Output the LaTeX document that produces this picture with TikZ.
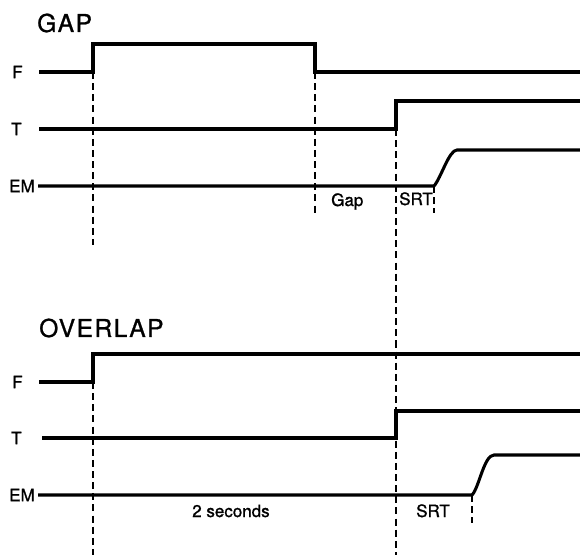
\documentclass[tikz,border=0pt]{standalone}
\usepackage{fontspec}
\setmainfont{TeX Gyre Heros}
\newfontfamily\lblfont[FakeBold=1.2]{TeX Gyre Heros}
\newfontfamily\ttlfont[LetterSpace=6, FakeBold=1.0]{TeX Gyre Heros}
\usepackage{tikz}
\usetikzlibrary{positioning}

\begin{document}
\begin{tikzpicture}[x=0.03cm, y=-0.03cm,
		sig/.style={line width=2.6pt, line join=miter},
		evline/.style={line width=1.2pt, dash pattern=on 6pt off 3.5pt},
		lbl/.style={font=\lblfont\fontsize{14.5}{16}\selectfont, inner sep=0pt},
		ttl/.style={font=\ttlfont\fontsize{21}{24}\selectfont, inner sep=0pt, anchor=west}
	]
	\useasboundingbox (0,0) rectangle (580,558);

	% GAP
	\node[ttl] (gTitle) at (37,23) {GAP};
	\node[lbl, anchor=west] (gF) at (12,72) {F};
	\node[lbl, anchor=west] (gT) at (11,129) {T};
	\node[lbl, anchor=east] (gEM) at (35,186) {EM};

	\coordinate (gFon) at (93,72);
	\coordinate (gFoff) at (315,72);
	\coordinate (gTon) at (396,129);
	\coordinate (gEMon) at (434,186);

	\draw[sig] (39,72) -- (gFon) -- (93,44) -- (315,44) -- (gFoff) -- (580,72);
	\draw[sig] (39,129) -- (gTon) -- (396,101) -- (580,101);
	\draw[sig] (38,186) -- (gEMon) .. controls (441,178) and (449,150) .. (457,150) -- (580,150);

	\draw[evline] (gFon) -- (93,245);
	\draw[evline] (gFoff) -- (315,213);
	\draw[evline] (gTon) -- (396,555);
	\draw[evline] (gEMon) -- (434,213);

	\node[lbl, anchor=base west] (gGap) at (331,206) {Gap};
	\node[lbl, anchor=base west] (gSRT) at (399,205) {SRT};

	% OVERLAP
	\node[ttl] (oTitle) at (39,328) {OVERLAP};
	\node[lbl, anchor=west] (oF) at (12,382) {F};
	\node[lbl, anchor=west] (oT) at (11,438) {T};
	\node[lbl, anchor=east] (oEM) at (35,495) {EM};

	\coordinate (oFon) at (93,382);
	\coordinate (oTon) at (396,438);
	\coordinate (oEMon) at (472,495);

	\draw[sig] (39,382) -- (oFon) -- (93,354) -- (580,354);
	\draw[sig] (42,438) -- (oTon) -- (396,411) -- (580,411);
	\draw[sig] (38,495) -- (oEMon) .. controls (479,488) and (484,455) .. (494,455) -- (580,455);

	\draw[evline] (oFon) -- (93,555);
	\draw[evline] (oEMon) -- (472,523);

	\node[lbl, anchor=base west] (o2s) at (192,517) {2 seconds};
	\node[lbl, anchor=base west] (oSRT) at (416,517) {SRT};
\end{tikzpicture}
\end{document}
